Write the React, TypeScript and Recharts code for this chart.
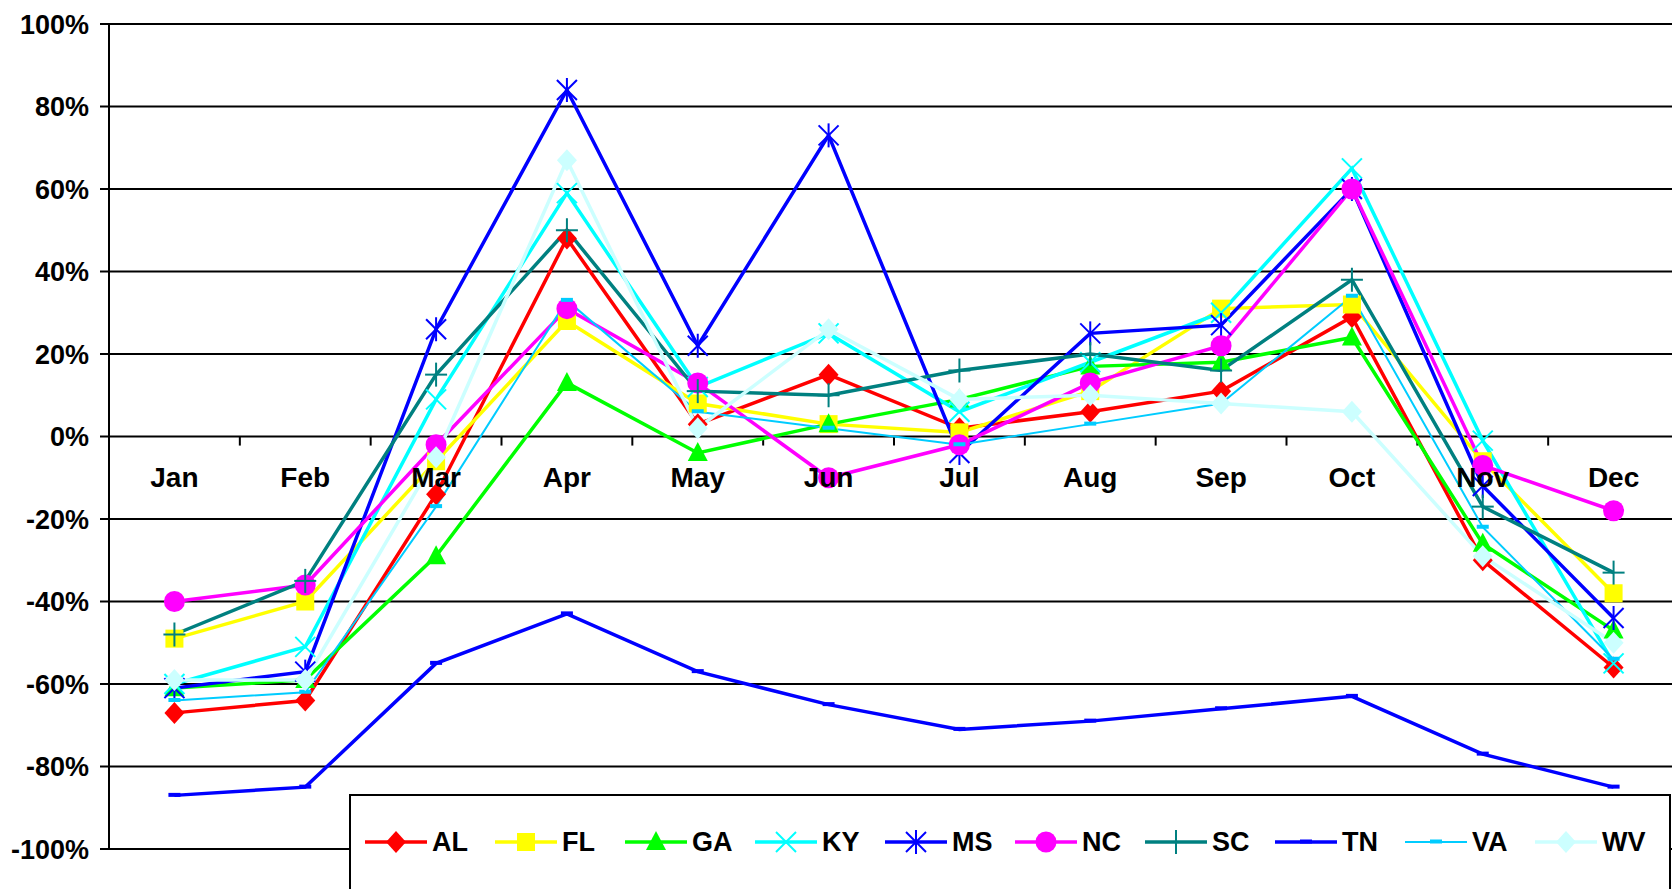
import React from "react";
import {
  ComposedChart, Line, XAxis, YAxis, CartesianGrid, ReferenceLine, ReferenceDot, Legend,
} from "recharts";

// === values (percent change) ===
const months = ["Jan", "Feb", "Mar", "Apr", "May", "Jun", "Jul", "Aug", "Sep", "Oct", "Nov", "Dec"];
const yTicks = [-100, -80, -60, -40, -20, 0, 20, 40, 60, 80, 100];

const AL = [-67, -64, -14, 48, 3, 15, 2, 6, 11, 29, -30, -56];
const FL = [-49, -40, -6, 28, 8, 3, 1, 11, 31, 32, -6, -38];
const GA = [-61, -59, -29, 13, -4, 3, 9, 17, 18, 24, -26, -47];
const KY = [-60, -51, 9, 59, 12, 25, 6, 18, 30, 65, -1, -55];
const MS = [-61, -57, 26, 84, 22, 73, -4, 25, 27, 60, -12, -44];
const NC = [-40, -36, -2, 31, 13, -10, -2, 13, 22, 60, -7, -18];
const SC = [-48, -35, 15, 50, 11, 10, 16, 20, 16, 38, -17, -33];
const TN = [-87, -85, -55, -43, -57, -65, -71, -69, -66, -63, -77, -85];
const VA = [-64, -62, -17, 33, 6, 2, -2, 3, 8, 34, -22, -54];
const WV = [-59, -59, -5, 67, 2, 26, 9, 10, 8, 6, -29, -50];

const values: Record<string, number[]> = { AL, FL, GA, KY, MS, NC, SC, TN, VA, WV };

// series styling
const series = [
  { key: "AL", color: "#FF0000", shape: "diamond", width: 3.5 },
  { key: "FL", color: "#FFFF00", shape: "square", width: 3.5 },
  { key: "GA", color: "#00FF00", shape: "triangle", width: 3.5 },
  { key: "KY", color: "#00FFFF", shape: "x", width: 3.5 },
  { key: "MS", color: "#0000FF", shape: "star", width: 3.5 },
  { key: "NC", color: "#FF00FF", shape: "circle", width: 3.5 },
  { key: "SC", color: "#008080", shape: "plus", width: 3.5 },
  { key: "TN", color: "#0000FF", shape: "dash", width: 3.5 },
  { key: "VA", color: "#00CCFF", shape: "dash", width: 2 },
  { key: "WV", color: "#CCFFFF", shape: "diamond", width: 3.5 },
];

const rows = months.map((m, i) => {
  const r: Record<string, number | string> = { month: m, pos: i + 0.5 };
  series.forEach((s) => { r[s.key] = values[s.key][i]; });
  return r;
});

const FONT = '"Liberation Sans", Arial, sans-serif';

function Marker({ shape, color, cx, cy }: { shape: string; color: string; cx: number; cy: number }) {
  if (cx == null || cy == null) return null;
  switch (shape) {
    case "diamond":
      return <polygon points={`${cx},${cy - 11} ${cx + 10},${cy} ${cx},${cy + 11} ${cx - 10},${cy}`} fill={color} />;
    case "square":
      return <rect x={cx - 9} y={cy - 9} width={18} height={18} fill={color} />;
    case "triangle":
      return <polygon points={`${cx},${cy - 11} ${cx + 10},${cy + 8} ${cx - 10},${cy + 8}`} fill={color} />;
    case "circle":
      return <circle cx={cx} cy={cy} r={10.5} fill={color} />;
    case "x":
      return (
        <g stroke={color} strokeWidth={2}>
          <line x1={cx - 10} y1={cy - 10} x2={cx + 10} y2={cy + 10} />
          <line x1={cx - 10} y1={cy + 10} x2={cx + 10} y2={cy - 10} />
        </g>
      );
    case "star":
      return (
        <g stroke={color} strokeWidth={2}>
          <line x1={cx - 10} y1={cy - 10} x2={cx + 10} y2={cy + 10} />
          <line x1={cx - 10} y1={cy + 10} x2={cx + 10} y2={cy - 10} />
          <line x1={cx} y1={cy - 12} x2={cx} y2={cy + 12} />
        </g>
      );
    case "plus":
      return (
        <g stroke={color} strokeWidth={2}>
          <line x1={cx - 11} y1={cy} x2={cx + 11} y2={cy} />
          <line x1={cx} y1={cy - 12} x2={cx} y2={cy + 12} />
        </g>
      );
    case "dash":
      return <rect x={cx - 6} y={cy - 2.5} width={12} height={4} fill={color} />;
    default:
      return null;
  }
}

function LegendContent(props: any) {
  const payload = props.payload || [];
  return (
    <div style={{ display: "flex", paddingLeft: 14, marginTop: 30, height: 32, alignItems: "center" }}>
      {payload.map((p: any) => {
        const s = series.find((x) => x.key === p.dataKey)!;
        return (
          <div key={s.key} style={{ width: 130, display: "flex", alignItems: "center" }}>
            <svg width={62} height={26} style={{ overflow: "visible" }}>
              <line x1={0} y1={13} x2={62} y2={13} stroke={s.color} strokeWidth={s.width} />
              <Marker shape={s.shape} color={s.color} cx={31} cy={13} />
            </svg>
            <span style={{ marginLeft: 5, fontFamily: FONT, fontWeight: "bold", fontSize: 27, color: "#000" }}>
              {s.key}
            </span>
          </div>
        );
      })}
    </div>
  );
}

export default function App() {
  return (
    <div style={{ position: "absolute", left: 0, top: 0, width: 1672, height: 889, overflow: "hidden", background: "#fff" }}>
      <ComposedChart width={1680} height={889} data={rows} margin={{ top: 24, right: 1, bottom: 40, left: 0 }}>
        <CartesianGrid vertical={false} stroke="#000" strokeWidth={2} />
        <XAxis type="number" dataKey="pos" domain={[0, 12]} hide />
        <YAxis
          domain={[-100, 100]}
          ticks={yTicks}
          width={109}
          interval={0}
          tickFormatter={(v) => `${v}%`}
          axisLine={{ stroke: "#000", strokeWidth: 2 }}
          tickLine={{ stroke: "#000", strokeWidth: 2 }}
          tickSize={9}
          tickMargin={11}
          tick={{ fill: "#000", fontSize: 27, fontWeight: "bold", fontFamily: FONT }}
        />
        {/* category tick marks on the zero line */}
        {months.slice(1).map((m, i) => (
          <ReferenceLine
            key={`t-${m}`}
            segment={[{ x: i + 1, y: 0 }, { x: i + 1, y: -2.2 }]}
            stroke="#000"
            strokeWidth={2}
          />
        ))}
        {/* month labels sit under the zero line */}
        {months.map((m, i) => (
          <ReferenceDot
            key={`l-${m}`}
            x={i + 0.5}
            y={0}
            r={0}
            fill="none"
            stroke="none"
            label={{
              value: m, position: "bottom", offset: 31,
              fill: "#000", fontSize: 28, fontWeight: "bold", fontFamily: FONT,
            }}
          />
        ))}
        {series.map((s) => (
          <Line
            key={s.key}
            type="linear"
            dataKey={s.key}
            stroke={s.color}
            strokeWidth={s.width}
            isAnimationActive={false}
            activeDot={false}
            dot={(p: any) => <Marker key={`${s.key}-${p.index}`} shape={s.shape} color={s.color} cx={p.cx} cy={p.cy} />}
          />
        ))}
        <Legend
          layout="horizontal"
          verticalAlign="middle"
          align="center"
          content={<LegendContent />}
          wrapperStyle={{
            left: 349, top: 794, width: 1322, height: 110,
            background: "#fff", border: "2px solid #000", boxSizing: "border-box",
          }}
        />
      </ComposedChart>
    </div>
  );
}
